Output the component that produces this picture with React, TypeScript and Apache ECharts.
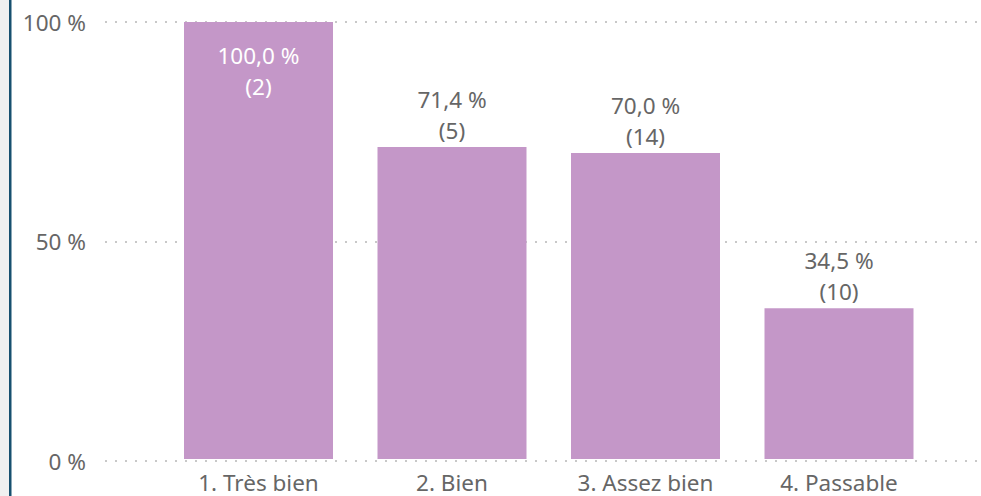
import React, { useEffect, useRef } from "react";
import * as echarts from "echarts";

const categories = ["1. Très bien", "2. Bien", "3. Assez bien", "4. Passable"];
const percentValues = [100, 71.4, 70.0, 34.5];
const counts = [2, 5, 14, 10];
const yTicks = [0, 50, 100];

const FONT = "'Noto Sans', 'Open Sans', sans-serif";
const FS = 22.5;

export default function App() {
  const ref = useRef<HTMLDivElement>(null);
  useEffect(() => {
    document.body.style.margin = "0";
    const chart = echarts.init(ref.current!, null, { renderer: "svg" });
    const fmt = (v: number) => v.toFixed(1).replace(".", ",") + " %";
    chart.setOption({
      animation: false,
      backgroundColor: "#ffffff",
      graphic: [
        { type: "rect", shape: { x: 0, y: 0, width: 9, height: 496 }, style: { fill: "#f0f0f0" }, z: 10 },
        { type: "rect", shape: { x: 9, y: 0, width: 2.5, height: 496 }, style: { fill: "#17506f" }, z: 10 },
      ],
      grid: [
        { left: 105, right: 0, top: 22, bottom: 35 },
        { left: 161.75, right: 45.25, top: 22, bottom: 35 },
      ],
      xAxis: [
        { type: "value", gridIndex: 0, show: false, min: 0, max: 1 },
        {
          type: "category",
          gridIndex: 1,
          data: categories,
          axisLine: { show: false },
          axisTick: { show: false },
          axisLabel: { color: "#666666", fontSize: FS, fontFamily: FONT, margin: 9, lineHeight: 28 },
        },
      ],
      yAxis: [
        {
          type: "value",
          gridIndex: 0,
          min: 0,
          max: 100,
          interval: 50,
          axisLine: { show: false },
          axisTick: { show: false },
          axisLabel: {
            color: "#666666",
            fontSize: FS,
            fontFamily: FONT,
            margin: 19,
            formatter: (v: number) => (yTicks.includes(v) ? `${v} %` : ""),
          },
          splitLine: { show: true, lineStyle: { color: "#c8c8c8", width: 2, type: [2, 8] } },
        },
        { type: "value", gridIndex: 1, min: 0, max: 100, show: false, splitLine: { show: false } },
      ],
      series: [
        {
          type: "bar",
          xAxisIndex: 1,
          yAxisIndex: 1,
          barWidth: 149,
          itemStyle: { color: "#c497c8" },
          data: percentValues.map((v, i) => {
            const inside = v >= 90;
            return {
              value: v,
              label: {
                show: true,
                position: inside ? "insideTop" : "top",
                distance: inside ? 18 : 1,
                color: inside ? "#ffffff" : "#666666",
                fontSize: FS,
                fontFamily: FONT,
                lineHeight: 31,
                formatter: () => `${fmt(v)}\n(${counts[i]})`,
              },
            };
          }),
        },
      ],
    });
    return () => chart.dispose();
  }, []);
  return <div ref={ref} style={{ position: "fixed", left: 0, top: 0, width: 981, height: 496 }} />;
}
